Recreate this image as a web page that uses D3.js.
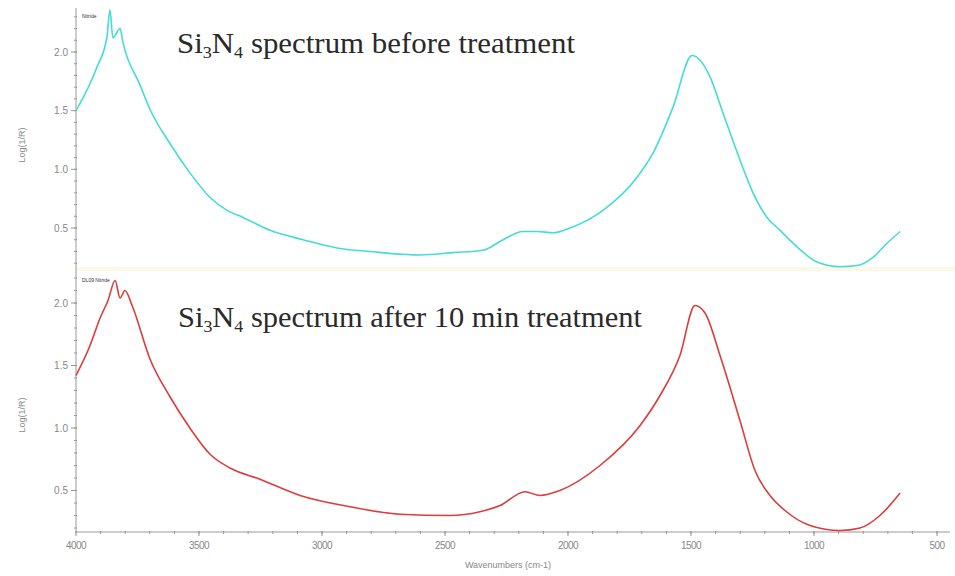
<!DOCTYPE html>
<html>
<head>
<meta charset="utf-8">
<script src="https://cdn.jsdelivr.net/npm/d3@7"></script>
<style>
  body { margin: 0; background: #fff; }
</style>
</head>
<body>
<div id="chart"></div>
<script>
// spectrum before treatment (top, cyan)
var beforeWave = [4000, 3915, 3874, 3862, 3850, 3821, 3809, 3740, 3699, 3618, 3537, 3455, 3386, 3321, 3211, 3077, 2939, 2805, 2602, 2467, 2346, 2264, 2183, 2126, 2061, 1992, 1858, 1720, 1654, 1573, 1496, 1463, 1423, 1370, 1301, 1248, 1191, 1138, 1069, 988, 894, 825, 760, 703, 650];
var beforeAbs  = [1.50, 1.87, 2.13, 2.36, 2.12, 2.20, 2.08, 1.72, 1.51, 1.22, 0.97, 0.76, 0.65, 0.59, 0.48, 0.40, 0.33, 0.30, 0.27, 0.29, 0.31, 0.40, 0.47, 0.47, 0.46, 0.50, 0.65, 0.93, 1.14, 1.53, 1.97, 1.93, 1.79, 1.48, 1.08, 0.80, 0.59, 0.48, 0.34, 0.21, 0.17, 0.18, 0.25, 0.37, 0.47];

// spectrum after 10 min treatment (bottom, red)
var afterWave = [4000, 3943, 3902, 3870, 3841, 3821, 3801, 3772, 3699, 3618, 3537, 3455, 3374, 3252, 3089, 2886, 2683, 2480, 2358, 2276, 2175, 2114, 2033, 1870, 1707, 1626, 1545, 1484, 1443, 1382, 1301, 1240, 1179, 1118, 1016, 894, 813, 732, 650];
var afterAbs  = [1.42, 1.66, 1.88, 2.02, 2.18, 2.04, 2.10, 1.98, 1.55, 1.25, 1.00, 0.79, 0.68, 0.59, 0.46, 0.37, 0.31, 0.30, 0.33, 0.38, 0.49, 0.46, 0.50, 0.70, 1.02, 1.26, 1.58, 1.98, 1.92, 1.58, 1.06, 0.66, 0.46, 0.34, 0.22, 0.18, 0.20, 0.30, 0.48];

var xTicks = [4000, 3500, 3000, 2500, 2000, 1500, 1000, 500];
var yTicks = [0.5, 1.0, 1.5, 2.0];

var width = 955, height = 576;

var svg = d3.select("#chart")
  .append("svg")
    .attr("width", width)
    .attr("height", height);

// shared wavenumber scale
var x = d3.scaleLinear().domain([4000, 500]).range([76, 937]);

// one y scale per panel
var yTop = d3.scaleLinear().domain([0.5, 2.0]).range([228, 52]);
var yBot = d3.scaleLinear().domain([0.5, 2.0]).range([490.5, 303]);

// faint divider band between the panels
svg.append("rect")
  .attr("x", 76).attr("y", 267)
  .attr("width", width - 76).attr("height", 4)
  .attr("fill", "#fbf8e6");

// y axis line (both panels share it)
svg.append("line")
  .attr("x1", 76).attr("x2", 76)
  .attr("y1", 8).attr("y2", 532)
  .attr("stroke", "#999").attr("stroke-width", 1);

function drawYAxis(y, minTick, maxTick, labelY) {
  var g = svg.append("g").attr("transform", "translate(76,0)");
  var minor = d3.range(minTick, maxTick + 0.001, 0.1);
  g.selectAll("line.minor")
    .data(minor)
    .enter().append("line")
      .attr("x1", -2).attr("x2", 1)
      .attr("y1", function(d) { return y(d); })
      .attr("y2", function(d) { return y(d); })
      .attr("stroke", "#999");
  g.selectAll("line.major")
    .data(yTicks)
    .enter().append("line")
      .attr("x1", -5).attr("x2", 1)
      .attr("y1", function(d) { return y(d); })
      .attr("y2", function(d) { return y(d); })
      .attr("stroke", "#999");
  g.selectAll("text")
    .data(yTicks)
    .enter().append("text")
      .attr("x", -8)
      .attr("y", function(d) { return y(d) + 3.5; })
      .attr("text-anchor", "end")
      .style("font-family", "Arial, 'Liberation Sans', sans-serif")
      .style("font-size", "10px")
      .attr("fill", "#888")
      .text(function(d) { return d.toFixed(1); });
  svg.append("text")
    .attr("transform", "translate(25," + labelY + ") rotate(-90)")
    .attr("text-anchor", "middle")
    .style("font-family", "Arial, 'Liberation Sans', sans-serif")
    .style("font-size", "9px")
    .attr("fill", "#888")
    .text("Log(1/R)");
}

drawYAxis(yTop, 0.2, 2.3, 145);
drawYAxis(yBot, 0.2, 2.2, 415);

// x axis
var xAxis = svg.append("g").attr("transform", "translate(0,532)");
xAxis.append("line")
  .attr("x1", 76).attr("x2", 950)
  .attr("stroke", "#999");
xAxis.selectAll("line.minor")
  .data(d3.range(4000, 399, -100))
  .enter().append("line")
    .attr("x1", function(d) { return x(d); })
    .attr("x2", function(d) { return x(d); })
    .attr("y1", -1).attr("y2", 2)
    .attr("stroke", "#999");
xAxis.selectAll("line.major")
  .data(xTicks)
  .enter().append("line")
    .attr("x1", function(d) { return x(d); })
    .attr("x2", function(d) { return x(d); })
    .attr("y1", -1).attr("y2", 4)
    .attr("stroke", "#999");
xAxis.selectAll("text")
  .data(xTicks)
  .enter().append("text")
    .attr("x", function(d) { return x(d); })
    .attr("y", 17)
    .attr("text-anchor", "middle")
    .style("font-family", "Arial, 'Liberation Sans', sans-serif")
    .style("font-size", "10px")
    .style("letter-spacing", "-0.6px")
    .attr("fill", "#888")
    .text(function(d) { return d; });
svg.append("text")
  .attr("x", 508).attr("y", 568)
  .attr("text-anchor", "middle")
  .style("font-family", "Arial, 'Liberation Sans', sans-serif")
  .style("font-size", "9px")
  .attr("fill", "#888")
  .text("Wavenumbers (cm-1)");

// spectra lines
function drawSpectrum(wave, abs, y, color) {
  var data = wave.map(function(w, i) { return {w: w, v: abs[i]}; });
  svg.append("path")
    .datum(data)
    .attr("fill", "none")
    .attr("stroke", color)
    .attr("stroke-width", 1.6)
    .attr("d", d3.line()
      .curve(d3.curveMonotoneX)
      .x(function(d) { return x(d.w); })
      .y(function(d) { return y(d.v); }));
}
drawSpectrum(beforeWave, beforeAbs, yTop, "#45dcd6");
drawSpectrum(afterWave, afterAbs, yBot, "#dc3c3c");

// small sample labels
svg.append("text")
  .attr("x", 82).attr("y", 18)
  .style("font-family", "Arial, sans-serif")
  .style("font-size", "5px")
  .attr("fill", "#333")
  .text("Nitride");
svg.append("text")
  .attr("x", 82).attr("y", 282)
  .style("font-family", "Arial, sans-serif")
  .style("font-size", "5px")
  .attr("fill", "#333")
  .text("DL09 Nitride");

// panel titles
function title(xPos, yPos, rest, len) {
  var t = svg.append("text")
    .attr("x", xPos).attr("y", yPos)
    .attr("textLength", len)
    .attr("lengthAdjust", "spacingAndGlyphs")
    .style("font-family", "'Liberation Serif', 'Times New Roman', serif")
    .style("font-size", "29px")
    .attr("fill", "#2a2a2a");
  t.append("tspan").text("Si");
  t.append("tspan").attr("dy", 5).style("font-size", "17px").text("3");
  t.append("tspan").attr("dy", -5).text("N");
  t.append("tspan").attr("dy", 5).style("font-size", "17px").text("4");
  t.append("tspan").attr("dy", -5).text(rest);
}
title(177, 53, " spectrum before treatment", 398);
title(178, 327, " spectrum after 10 min treatment", 464);
</script>
</body>
</html>
